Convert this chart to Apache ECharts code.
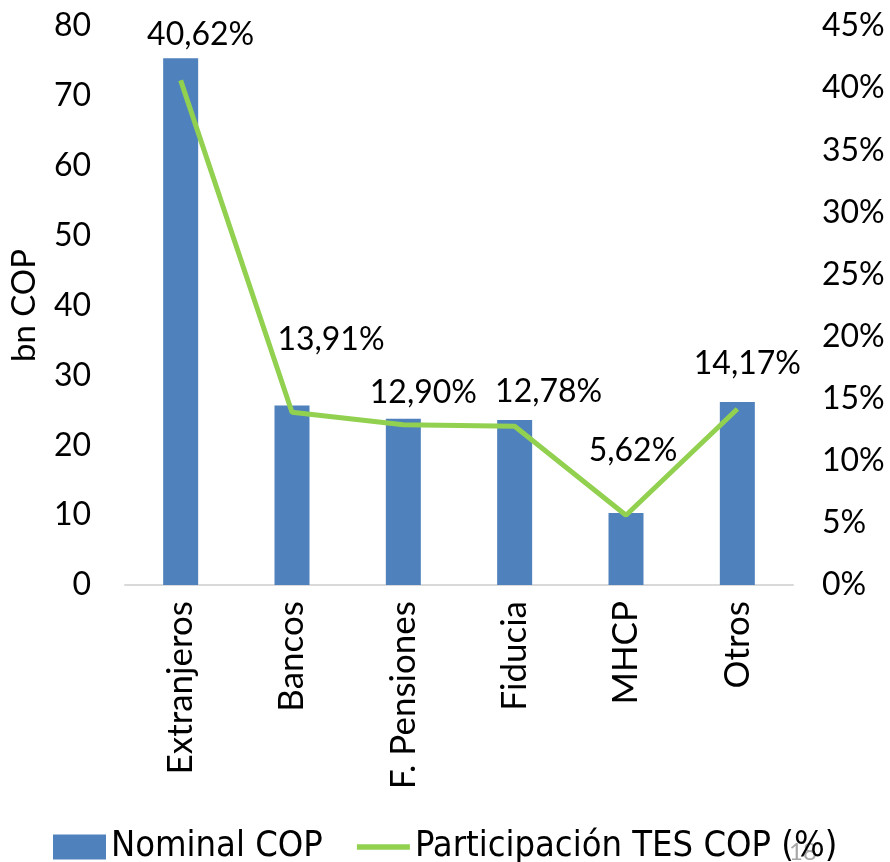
<!DOCTYPE html>
<html>
<head>
<meta charset="utf-8">
<script src="https://cdn.jsdelivr.net/npm/echarts@6/dist/echarts.min.js"></script>
<style>
html,body{margin:0;padding:0;background:#fff;}
#main{width:890px;height:862px;}
</style>
</head>
<body>
<div id="main"></div>
<script>
var categories=['Extranjeros','Bancos','F. Pensiones','Fiducia','MHCP','Otros'];
var nominalCop=[75.4,25.7,23.8,23.6,10.3,26.2];
var participacion=[40.62,13.91,12.90,12.78,5.62,14.17];
// label offsets as placed in the original chart
var labelShift=[[20,-29],[39,-56],[20,-16],[34,-18],[7,-48],[10,-29]];

var fontMain='Lato, "Open Sans", sans-serif';
var mychart=echarts.init(document.getElementById('main'),null,{renderer:'canvas'});

var lineData=participacion.map(function(v,i){
	return {value:v,label:{offset:labelShift[i]}};
});

var option={
	animation:false,
	grid:{left:124,right:97,top:26,bottom:277},
	legend:{
		top:824,
		left:48,
		itemWidth:53,
		itemHeight:25,
		itemGap:34,
		textStyle:{fontFamily:'"Liberation Sans Narrow", "DejaVu Sans Condensed", sans-serif',fontSize:36,color:'#000'},
		data:[
			{name:'Nominal COP',icon:'rect'},
			{name:'Participación TES COP (%)',icon:'path://M0,0 L10,0 L10,1 L0,1 Z'}
		]
	},
	xAxis:{
		type:'category',
		data:categories,
		axisLine:{lineStyle:{color:'#D9D9D9',width:2}},
		axisTick:{show:false},
		axisLabel:{rotate:90,fontFamily:fontMain,fontSize:35,color:'#000',margin:16}
	},
	yAxis:[{
		type:'value',
		min:0,max:80,interval:10,
		name:'bn COP',
		nameLocation:'middle',
		nameGap:84,
		nameTextStyle:{fontFamily:fontMain,fontSize:33,color:'#000'},
		axisLine:{show:false},
		axisTick:{show:false},
		splitLine:{show:false},
		axisLabel:{fontFamily:fontMain,fontSize:32,color:'#000',margin:34}
	},{
		type:'value',
		min:0,max:45,interval:5,
		axisLine:{show:false},
		axisTick:{show:false},
		splitLine:{show:false},
		axisLabel:{fontFamily:fontMain,fontSize:32,color:'#000',margin:29,formatter:'{value}%'}
	}],
	series:[{
		name:'Nominal COP',
		type:'bar',
		data:nominalCop,
		barWidth:35,
		itemStyle:{color:'#4F81BD'}
	},{
		name:'Participación TES COP (%)',
		type:'line',
		yAxisIndex:1,
		data:lineData,
		symbol:'circle',
		symbolSize:1,
		lineStyle:{color:'#92D050',width:5},
		itemStyle:{color:'#92D050'},
		label:{
			show:true,
			position:'top',
			distance:0,
			fontFamily:fontMain,
			fontSize:32,
			color:'#000',
			formatter:function(p){return p.value.toFixed(2).replace('.',',')+'%';}
		}
	}],
	graphic:[{
		type:'text',
		left:789,
		top:840,
		style:{text:'18',fontFamily:fontMain,fontSize:24,fill:'#A6A6A6'}
	}]
};
mychart.setOption(option);
</script>
</body>
</html>
